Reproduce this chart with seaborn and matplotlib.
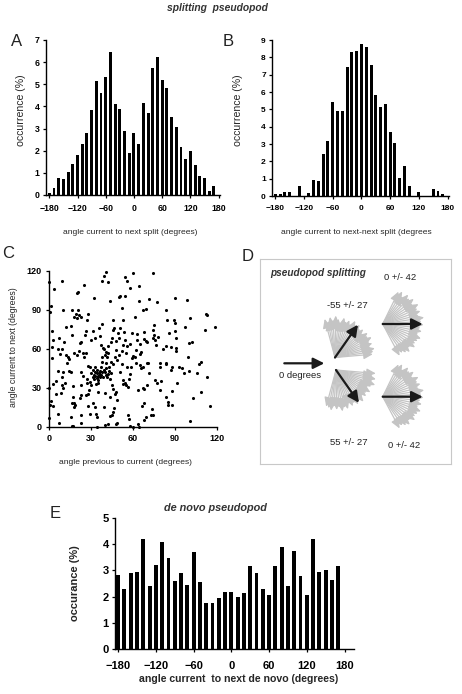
import numpy as np
import pandas as pd
import matplotlib
matplotlib.use("Agg")
import matplotlib.pyplot as plt
import seaborn as sns

# ---------------- data ----------------
angles_split = list(range(-180, 180, 10))
occ_next_split = [0.1, 0.32, 0.77, 0.74, 1.05, 1.38, 1.8, 2.3, 2.78, 3.83, 5.13, 4.61,
                  5.35, 6.46, 4.11, 3.87, 2.9, 1.91, 2.78, 2.3, 4.16, 3.69, 5.72, 6.23,
                  5.2, 4.82, 3.53, 3.05, 2.15, 1.64, 1.97, 1.37, 0.87, 0.77, 0.17, 0.4]
occ_next_next_split = [0.14, 0.1, 0.24, 0.25, 0, 0.56, 0, 0.2, 0.94, 0.86, 2.42, 3.17,
                       5.42, 4.9, 4.9, 7.46, 8.33, 8.37, 8.75, 8.6, 7.56, 5.83, 5.12, 5.3,
                       3.69, 3.06, 1.04, 1.73, 0.55, 0, 0.25, 0, 0, 0.42, 0.27, 0.13]
angles_denovo = list(range(-180, 180, 10))
occ_denovo = [2.82, 2.29, 2.89, 2.94, 4.18, 2.42, 3.19, 4.09, 3.48, 2.58, 2.89, 2.44,
              3.7, 2.54, 1.75, 1.75, 1.96, 2.18, 2.18, 1.99, 2.14, 3.15, 2.9, 2.3,
              2.06, 3.18, 3.87, 2.42, 3.73, 2.78, 2.08, 4.18, 2.93, 3.0, 2.62, 3.17]
hist_ticks = [-180, -120, -60, 0, 60, 120, 180]

prev_angle = [0, 1, 0.5, 2, 3, 2, 1.7, 0, 1, 0.5, 2.5, 0, 7, 6, 5, 6, 6.5, 7, 10.5, 9, 9.6, 3.6, 8.8,
              10, 9, 9, 9.6, 8.4, 12, 13.6, 13, 14.3, 15.3, 15.5, 16.5, 16, 16.7, 17, 16.5, 15.5, 16, 17,
              17.7, 18, 18.4, 18, 19, 19.6, 20.3, 19.8, 20.8,
              21.5, 22.5, 22.5, 22, 23, 22, 23, 22.7, 24.4, 22.7, 23, 25, 26, 25.6, 27, 27.5, 28, 26.8,
              27, 28.7, 28, 26, 29, 29.6, 29.2, 29, 28,
              31, 32, 32.7, 33, 33, 31.5, 32, 33, 34, 34, 35, 35.5, 35, 33.5, 31.5, 33, 33.5, 34.4, 34,
              35, 36, 36.5, 37, 38, 38.7, 35.6, 36, 37, 37.5, 39.4, 40.6, 38, 37.5, 38.7, 39.4, 40, 39, 40,
              42, 43.7, 41, 41.6, 42.3, 41, 43, 40.6, 41.6, 42.3, 43.5, 44, 44.7, 43.5, 44.7, 43.5, 42.3,
              46, 45.4, 46.6, 47.8, 47, 48.3, 46, 47.6, 47, 48.3, 46, 46.6, 48.8, 48, 49.5, 50,
              51, 54, 55.5, 54.5, 52, 53, 51, 53.5, 54, 52.6, 52, 51, 53, 54, 52.6, 55, 56.6, 56, 57.4,
              58, 58.3, 59, 56.6, 57.4, 59.8, 57.6, 59, 59.8, 58,
              61.4, 60.2, 61.4, 62, 62.6, 63, 64.5, 64.3, 63.8, 63.8, 64.5, 65, 66, 65, 67, 67.4, 69,
              68, 68, 69, 69.8, 66, 67.4, 68, 66.7, 68, 69.8, 69, 68,
              71.5, 71, 71.7, 73.4, 72.7, 74.6, 74.4, 74.8, 74, 75.3, 75.8, 74.6, 76.3, 76, 77, 77.5,
              78, 79, 79.4, 79.4,
              81.8, 84, 84.6, 83.7, 83.4, 84, 84, 85, 85.3, 86, 87, 87.7, 87.4, 88.2, 88.2, 89.4, 90,
              90, 90.6, 90,
              90.6, 91, 91.3, 93.2, 96.6, 97.3, 98.5, 99.7, 100,
              101, 100, 102, 101, 102.8, 105.7, 107.3, 109, 109, 111.6, 112, 112.8, 112.8, 115, 118.8,
              30, 31, 32, 34, 36, 37, 39, 40, 41, 43, 30, 35, 44, 46, 38, 40, 42, 44, 48, 50, 52, 55,
              56, 58, 45, 50, 21, 24, 20, 26, 8, 12, 14, 62, 65, 3, 5, 11, 18, 25, 70, 80, 95]
next_angle = [111, 93, 88, 74, 67, 61, 53, 29.5, 20, 17, 16, 7, 3, 9.5, 25, 43, 60, 68, 65, 112, 90, 106, 60,
              42, 38.5, 32, 29.5, 25.6, 77, 54, 48.7, 43, 42.3, 77.4, 90, 70.5, 31, 23, 18, 7.7, 0.5, 0.5,
              15.4, 18.5, 16.7, 84.6, 86.4, 84, 90, 103, 104,
              86, 84.6, 65, 64.6, 24.4, 21.8, 42.3, 32, 39, 9, 2.6, 108.7, 74, 70.5, 82, 46.7, 87, 33.3,
              37, 28, 25, 24.4, 34.6, 66.7, 46, 10, 16,
              74, 99, 68, 46, 42, 38.5, 36.4, 39, 41, 37.5, 39, 41, 36, 32.8, 18.5, 15.4, 9.7, 7.7, 0,
              27, 40, 38.5, 40, 42.3, 38.5, 76, 70, 63, 78.7, 116, 118.7, 112, 54, 60.8, 60, 25.6, 15.4, 1.3,
              111.5, 96.7, 57.7, 53.8, 56.4, 48.7, 46, 39.7, 38.5, 40.5, 36.4, 41, 32, 23, 9, 8.2, 2,
              82, 74.4, 76, 59, 53.8, 51.3, 28.7, 27, 25, 20.5, 11.5, 14.6, 3, 2, 71.8, 100,
              100.5, 115, 112, 100.5, 91, 82, 75.6, 73, 66.7, 62.8, 48, 42.3, 36, 33.3, 32.8, 32, 30.8, 46, 37,
              40.5, 46, 52.5, 9, 5.6, 118, 106.4, 71.8, 0, 0.5,
              84.6, 54.6, 53.8, 48.7, 71.3, 66.7, 108.5, 96.7, 28, 2, 0, 63.6, 57.7, 47.4, 46, 89.7, 90.3,
              73, 67.7, 66, 65.4, 45, 29.5, 28.7, 16.2, 18.5, 49.2, 7.7, 5,
              98, 48.7, 41, 14, 9, 9, 118.5, 78.2, 74.4, 70.5, 66.7, 68, 62.8, 36, 33.3, 96,
              69, 48.7, 46, 28,
              59.5, 89.7, 82, 62, 48, 48.7, 23, 16.7, 19.2, 71.8, 61.5, 46, 43.6, 27.7, 16.7, 82, 79.5,
              74, 68, 99,
              60.3, 58.5, 33.8, 46, 41.5, 76.4, 97.4, 53.8, 43,
              83.3, 64.6, 65.4, 4.4, 21.8, 41, 48, 50, 27, 74.4, 86.7, 86, 38.5, 16, 76.4,
              41, 44, 40, 44, 43, 46, 44, 42, 45, 43, 32, 34, 50, 48, 50, 55, 62, 65, 66, 55, 58, 57,
              62, 64, 68, 68, 58, 57, 55, 57, 56, 55, 52, 59, 56, 33, 35, 34, 57, 54, 32, 35, 45]
scatter_ticks = [0, 30, 60, 90, 120]

# panel D (illustration): arrow origins in panel pixel units, mean directions
fan_origin_x = [335.0, 336.0, 382.7, 382.7]
fan_origin_y = [357.5, 370.0, 324.0, 396.7]
fan_mean_angle = [-55, 55, 0, 0]
split_fan_offsets = [-50, -46, -42, -38, -34, -30, -26, -22, -18, -14, -10, -6, -2, 2, 6, 10,
                     14, 18, 22, 26, 30, 34, 38, 42, 46, 50]
split_fan_lengths = [40, 37, 41, 38, 42, 39, 36, 41, 38, 40, 37, 42, 39, 41, 38, 40, 36, 41,
                     39, 42, 38, 40, 37, 41, 39, 38]
next_fan_offsets = [-64, -59, -54, -49, -44, -39, -34, -29, -24, -19, -14, -9, -4, 1, 6, 11,
                    16, 21, 26, 31, 36, 41, 46, 51, 56, 62]
next_fan_lengths = [36, 38, 34, 39, 37, 40, 36, 41, 38, 40, 37, 42, 39, 41, 38, 40, 37, 41,
                    39, 38, 40, 36, 39, 37, 35, 36]
zero_arrow = (284.3, 363.3, 0)

W, H = 462, 694
sns.set_style("ticks")
plt.rcParams['font.family'] = ['Liberation Sans', 'DejaVu Sans']
fig = plt.figure(figsize=(W / 100, H / 100), dpi=100)


def px_axes(l, t, r, b):
    return fig.add_axes([l / W, 1 - b / H, (r - l) / W, (b - t) / H])


def ftext(x, y, s, **kw):
    fig.text(x / W, 1 - y / H, s, **kw)


def style_hist(ax, ymax, fs, pad_x):
    ax.set_xlim(-187, 183)
    ax.set_ylim(0, ymax)
    ax.set_xticks(hist_ticks)
    ax.set_yticks(range(0, ymax + 1))
    ax.set_xlabel('')
    ax.set_ylabel('')
    for s in ['top', 'right']:
        ax.spines[s].set_visible(False)
    for s in ['left', 'bottom']:
        ax.spines[s].set_linewidth(1.0)
        ax.spines[s].set_color('black')
    ax.tick_params(axis='both', direction='out', length=2.5, width=0.9, colors='black',
                   labelsize=fs)
    ax.tick_params(axis='x', pad=pad_x)
    ax.tick_params(axis='y', pad=2)
    for lab in ax.get_xticklabels() + ax.get_yticklabels():
        lab.set_fontweight('bold')


# ---------------- panel A ----------------
axA = px_axes(46, 40, 220, 195)
dfA = pd.DataFrame({'angle': angles_split, 'occ': occ_next_split})
sns.barplot(data=dfA, x='angle', y='occ', native_scale=True, width=0.62, color='black',
            errorbar=None, linewidth=0, saturation=1, ax=axA)
style_hist(axA, 7, 6.3, 4)

# ---------------- panel B ----------------
axB = px_axes(272, 40, 449, 196)
dfB = pd.DataFrame({'angle': angles_split, 'occ': occ_next_next_split})
sns.barplot(data=dfB, x='angle', y='occ', native_scale=True, width=0.62, color='black',
            errorbar=None, linewidth=0, saturation=1, ax=axB)
style_hist(axB, 9, 6.0, 4)

# ---------------- panel C ----------------
axC = px_axes(49.3, 270.7, 216.7, 426.7)
dfC = pd.DataFrame({'prev': prev_angle, 'next': next_angle})
sns.scatterplot(data=dfC, x='prev', y='next', color='black', s=5, linewidth=0,
                marker='o', ax=axC, clip_on=False)
axC.set_xlim(0, 120)
axC.set_ylim(0, 120)
axC.set_xticks(scatter_ticks)
axC.set_yticks(scatter_ticks)
axC.set_xlabel('')
axC.set_ylabel('')
for s in ['top', 'right']:
    axC.spines[s].set_visible(False)
for s in ['left', 'bottom']:
    axC.spines[s].set_linewidth(1.0)
    axC.spines[s].set_color('black')
axC.tick_params(axis='both', direction='out', length=2.5, width=0.9, colors='black',
                labelsize=6.5)
axC.tick_params(axis='x', pad=3)
axC.tick_params(axis='y', pad=3)
for lab in axC.get_xticklabels() + axC.get_yticklabels():
    lab.set_fontweight('bold')

# ---------------- panel E ----------------
axE = px_axes(115, 517.7, 354, 649.3)
dfE = pd.DataFrame({'angle': angles_denovo, 'occ': occ_denovo})
sns.barplot(data=dfE, x='angle', y='occ', native_scale=True, width=0.62, color='black',
            errorbar=None, linewidth=0, saturation=1, ax=axE)
style_hist(axE, 5, 8.0, 6)
axE.set_xlim(-185, 195)

# ---------------- panel D ----------------
axD = px_axes(259.5, 259.3, 451, 464.3)
axD.set_xlim(259.5, 451)
axD.set_ylim(464.3, 259.3)
axD.set_xticks([])
axD.set_yticks([])
for s in axD.spines.values():
    s.set_color('#c8c8c8')
    s.set_linewidth(0.8)


def arrow(ax, x0, y0, ang, length, color, lw, ms, hl, hw, z):
    x1 = x0 + length * np.cos(np.radians(ang))
    y1 = y0 + length * np.sin(np.radians(ang))
    ax.annotate('', xy=(x1, y1), xytext=(x0, y0), zorder=z,
                arrowprops=dict(arrowstyle=f'-|>,head_length={hl},head_width={hw}',
                                color=color, lw=lw, shrinkA=0, shrinkB=0,
                                mutation_scale=ms))


grey = '#c4c4c4'
for i in range(4):
    offs = split_fan_offsets if i < 2 else next_fan_offsets
    lens = split_fan_lengths if i < 2 else next_fan_lengths
    for o, L in zip(offs, lens):
        arrow(axD, fan_origin_x[i], fan_origin_y[i], fan_mean_angle[i] + o, L,
              grey, 0.9, 10, 0.55, 0.25, 2)
for i in range(4):
    arrow(axD, fan_origin_x[i], fan_origin_y[i], fan_mean_angle[i], 40,
          '#1a1a1a', 1.6, 11, 0.6, 0.3, 3)
arrow(axD, zero_arrow[0], zero_arrow[1], zero_arrow[2], 40, '#1a1a1a', 1.6, 11, 0.6, 0.3, 3)

tk = dict(fontsize=6.8, color='#222222', ha='center', va='center')
ftext(270, 272.7, 'pseudopod splitting', fontsize=7.2, fontweight='bold', fontstyle='italic',
      color='#333333', ha='left', va='center')
ftext(400.5, 277, '0 +/- 42', **tk)
ftext(347.5, 306, '-55 +/- 27', **tk)
ftext(300.5, 375.7, '0 degrees', **tk)
ftext(348.5, 442.7, '55 +/- 27', **tk)
ftext(404.5, 445.7, '0 +/- 42', **tk)

# ---------------- text ----------------
ftext(217, 8, 'splitting  pseudopod', fontsize=7.4, fontweight='bold', fontstyle='italic',
      color='#333333', ha='center', va='center')
letter = dict(fontsize=12, color='#222222', ha='center', va='center')
ftext(17, 42, 'A', **letter)
ftext(228, 42, 'B', **letter)
ftext(8, 254, 'C', **letter)
ftext(248, 257, 'D', **letter)
ftext(55, 513.5, 'E', **letter)

ftext(20.7, 110, 'occurrence (%)', fontsize=7.6, rotation=90, ha='center', va='center')
ftext(238, 110, 'occurrence (%)', fontsize=7.6, rotation=90, ha='center', va='center')
ftext(130, 232, 'angle current to next split (degrees)', fontsize=6.1, ha='center', va='center')
ftext(281, 232, 'angle current to next-next split (degrees', fontsize=6.1, ha='left',
      va='center')
ftext(13.3, 347, 'angle current to next (degrees)', fontsize=6.3, rotation=90, ha='center',
      va='center')
ftext(126, 462.7, 'angle previous to current (degrees)', fontsize=6.1, ha='center', va='center')

ftext(215, 507.7, 'de novo pseudopod', fontsize=7.8, fontweight='bold', fontstyle='italic',
      color='#333333', ha='center', va='center')
ftext(75, 583, 'occurance (%)', fontsize=8, fontweight='bold', rotation=90, ha='center',
      va='center')
ftext(238.5, 679, 'angle current  to next de novo (degrees)', fontsize=7.6, fontweight='bold',
      ha='center', va='center')

fig.savefig('out.png', dpi=100)
